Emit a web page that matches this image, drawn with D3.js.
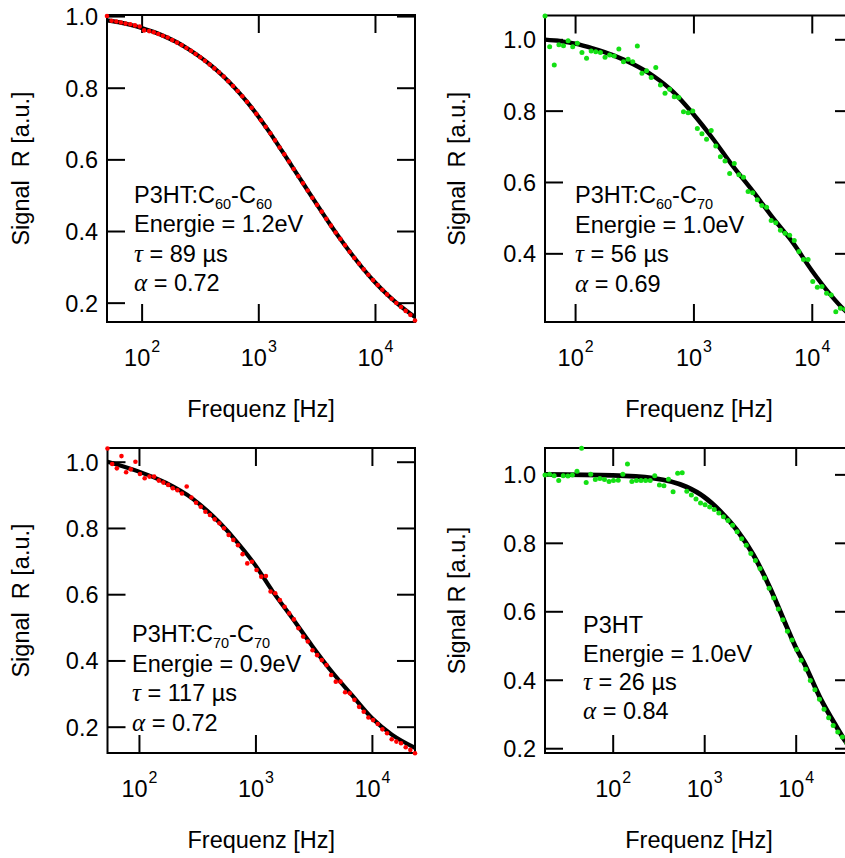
<!DOCTYPE html>
<html>
<head>
<meta charset="utf-8">
<script src="https://cdn.jsdelivr.net/npm/d3@7"></script>
<style>
  body { margin: 0; background: #fff; }
  svg { display: block; }
  text { font-family: "Liberation Sans", Arial, sans-serif; fill: #000; }
</style>
</head>
<body>
<script>
// ---------- measured spectra and fitted curves ----------

// P3HT:C60-C60
const freqA = [50.5,55.3,60.7,66.5,72.9,80.0,87.7,96.2,105,116,127,139,152,167,183,201,220,242,265,290,318,349,383,420,460,505,553,607,665,729,800,877,962,1054,1156,1268,1390,1524,1671,1832,2009,2203,2415,2649,2904,3184,3491,3828,4198,4603,5047,5533,6067,6653,7294,7998,8770,9616,10540,11560,12680,13900,15240,16710,18320,20090,22030];
const signalA = [1.000,0.987,0.985,0.982,0.979,0.977,0.974,0.971,0.960,0.958,
  0.955,0.950,0.945,0.940,0.933,0.926,0.919,0.911,0.903,0.894,
  0.885,0.875,0.865,0.854,0.843,0.831,0.818,0.805,0.791,0.776,
  0.761,0.744,0.727,0.709,0.691,0.673,0.653,0.633,0.614,0.594,
  0.573,0.553,0.533,0.513,0.493,0.473,0.454,0.434,0.415,0.396,
  0.378,0.360,0.342,0.325,0.309,0.293,0.278,0.263,0.249,0.236,
  0.223,0.211,0.199,0.188,0.177,0.166,0.150];
const fitFreqA = [50.5,63.1,79.4,100,126,158,200,251,316,398,501,631,794,1000,1259,1585,1995,2512,3162,3981,5012,6310,7943,10000,12590,15850,19950,22030];
const fitA = [0.988,0.983,0.976,0.967,0.956,0.943,0.927,0.908,0.886,0.861,0.832,0.799,0.762,0.720,0.674,0.625,0.575,0.525,0.475,0.426,0.379,0.335,0.294,0.257,0.224,0.195,0.170,0.160];

// P3HT:C60-C70
const freqB = [55.7,61.0,66.7,73.0,79.8,87.3,95.5,104.5,114.3,125.0,136.8,149.6,163.7,179.1,195.9,214.3,234.4,256.4,280.5,306.9,335.7,367.3,401.8,439.5,480.8,526.0,575.4,629.5,688.7,753.4,824.1,901.6,986.3,1079,1180,1291,1413,1545,1690,1849,2023,2213,2421,2649,2897,3170,3467,3793,4150,4539,4966,5433,5943,6501,7112,7780,8511,9311,10190,11140,12190,13340,14590,15960,17460,19100,20890];
const signalB = [1.065,0.979,0.928,0.985,0.982,0.996,0.979,0.989,0.963,0.947,
  0.967,0.965,0.963,0.950,0.956,0.953,0.973,0.937,0.944,0.937,
  0.981,0.905,0.912,0.893,0.921,0.872,0.849,0.860,0.839,0.837,
  0.797,0.794,0.799,0.750,0.735,0.720,0.744,0.701,0.671,0.659,
  0.624,0.652,0.620,0.613,0.573,0.570,0.550,0.534,0.529,0.492,
  0.486,0.465,0.456,0.451,0.436,0.405,0.383,0.383,0.321,0.305,
  0.307,0.288,0.283,0.236,0.246,0.243,0.225];
const fitFreqB = [55.7,74.6,100,143,211,311,459,678,1000,1456,2148,3162,4677,6918,10000,14290,19050,22300];
const fitB = [0.999,0.995,0.988,0.974,0.955,0.930,0.897,0.852,0.790,0.722,0.645,0.575,0.500,0.430,0.352,0.285,0.240,0.222];

// P3HT:C70-C70
const freqC = [53.7,58.9,64.6,70.8,77.6,85.1,93.3,102,112,123,135,148,162,178,195,214,234,257,282,309,339,372,407,447,490,537,589,646,708,776,851,933,1023,1122,1230,1349,1479,1622,1778,1950,2138,2344,2570,2818,3090,3388,3715,4074,4467,4898,5370,5888,6457,7079,7762,8511,9333,10230,11220,12300,13490,14790,16220,17780,19500,21380,23440];
const signalC = [1.040,0.993,0.980,1.017,0.968,0.977,1.000,0.963,0.950,0.955,
  0.955,0.943,0.937,0.930,0.920,0.914,0.904,0.925,0.892,0.876,
  0.864,0.849,0.839,0.826,0.814,0.799,0.779,0.764,0.748,0.721,
  0.693,0.698,0.673,0.653,0.655,0.608,0.603,0.582,0.562,0.542,
  0.524,0.497,0.472,0.457,0.431,0.416,0.401,0.386,0.356,0.336,
  0.336,0.304,0.301,0.281,0.260,0.245,0.228,0.220,0.208,0.192,
  0.180,0.162,0.155,0.150,0.138,0.130,0.120];
const fitFreqC = [53.7,100,171,290,489,724,1000,1396,2070,3069,4550,6745,10000,14830,23440];
const fitC = [1.000,0.970,0.936,0.888,0.817,0.750,0.687,0.610,0.528,0.444,0.365,0.295,0.226,0.176,0.136];

// P3HT
const freqD = [18.2,20.4,22.9,25.7,28.8,32.4,36.3,40.7,45.7,51.3,57.5,64.6,72.4,81.3,91.2,102,115,129,145,162,182,204,229,257,288,324,363,407,457,513,575,646,724,813,912,1023,1148,1288,1445,1622,1820,2042,2291,2570,2884,3236,3631,4074,4571,5129,5754,6457,7244,8128,9120,10230,11480,12880,14450,16220,18200,20420,22910,25700,28840,32360,36310,40740];
const signalD = [0.998,1.000,0.996,0.982,0.996,0.995,0.998,1.009,1.076,0.976,
  1.000,0.985,0.988,0.985,0.979,0.982,0.983,1.000,1.030,0.979,
  0.982,0.982,0.982,0.982,0.996,0.969,0.967,0.986,0.949,1.003,
  1.005,0.951,0.940,0.928,0.916,0.911,0.905,0.897,0.887,0.876,
  0.865,0.851,0.832,0.812,0.793,0.769,0.748,0.725,0.697,0.667,
  0.639,0.607,0.575,0.542,0.516,0.488,0.457,0.431,0.398,0.371,
  0.343,0.314,0.289,0.266,0.247,0.233,0.215,0.200];
const fitFreqD = [18.2,100,275,646,1000,1479,2265,3443,5248,7943,10000,12130,18450,28050,34590,42300];
const fitD = [1.000,0.997,0.989,0.963,0.934,0.894,0.838,0.765,0.668,0.556,0.495,0.453,0.348,0.262,0.222,0.190];

// axis ranges and ticks
const xDomains = [[50.5, 22030], [55.7, 22300], [53.7, 23440], [18.2, 42300]];
const yDomains = [[0.146, 1.003], [0.2075, 1.0667], [0.1206, 1.0414], [0.186, 1.077]];
const xTickValues = [100, 1000, 10000];
const yTickValues = [[0.2, 0.4, 0.6, 0.8, 1.0], [0.4, 0.6, 0.8, 1.0], [0.2, 0.4, 0.6, 0.8, 1.0], [0.2, 0.4, 0.6, 0.8, 1.0]];

// annotation texts
const sampleNames = [
  [["P3HT:C", false], ["60", true], ["-C", false], ["60", true]],
  [["P3HT:C", false], ["60", true], ["-C", false], ["70", true]],
  [["P3HT:C", false], ["70", true], ["-C", false], ["70", true]],
  [["P3HT", false]]
];
const energies = ["1.2", "1.0", "0.9", "1.0"];
const taus = ["89", "56", "117", "26"];
const alphas = ["0.72", "0.69", "0.72", "0.84"];
const yTitles = ["Signal  R [a.u.]", "Signal  R [a.u.]", "Signal  R [a.u.]", "Signal R [a.u.]"];
const xTitle = "Frequenz [Hz]";

// ---------- layout ----------
const RED = "#ff0000", GREEN = "#14e014";
const panels = [
  { freq: freqA, signal: signalA, fitFreq: fitFreqA, fit: fitA, color: RED, r: 2.3, lw: 4.2,
    box: { x: 107, y: 15, w: 308, h: 307 }, note: { x: 134, y: 203, step: 29.3 }, titleX: 29 },
  { freq: freqB, signal: signalB, fitFreq: fitFreqB, fit: fitB, color: GREEN, r: 2.5, lw: 4.4,
    box: { x: 545, y: 15.5, w: 308, h: 306.5 }, note: { x: 575, y: 203, step: 29.7 }, titleX: 465 },
  { freq: freqC, signal: signalC, fitFreq: fitFreqC, fit: fitC, color: RED, r: 2.3, lw: 4.2,
    box: { x: 107.5, y: 448, w: 307.5, h: 305 }, note: { x: 132, y: 642, step: 29.7 }, titleX: 29 },
  { freq: freqD, signal: signalD, fitFreq: fitFreqD, fit: fitD, color: GREEN, r: 2.5, lw: 4.8,
    box: { x: 545, y: 448, w: 308, h: 305 }, note: { x: 583, y: 633, step: 28.5 }, titleX: 465 }
];

const FONT = 23.5, TICK = 18;
const svg = d3.select("body").append("svg").attr("width", 845).attr("height", 858);

function styleAxis(sel) {
  sel.attr("font-size", FONT).attr("font-family", null);
  sel.select(".domain").remove();
  sel.selectAll(".tick line").attr("stroke", "#000").attr("stroke-width", 2);
}

panels.forEach((p, i) => {
  const { w, h } = p.box;
  const g = svg.append("g").attr("transform", `translate(${p.box.x},${p.box.y})`);
  const x = d3.scaleLog().domain(xDomains[i]).range([0, w]);
  const y = d3.scaleLinear().domain(yDomains[i]).range([h, 0]);

  // bottom axis with 10^n labels
  const gx = g.append("g").attr("transform", `translate(0,${h})`)
    .call(d3.axisBottom(x).tickValues(xTickValues).tickSize(-TICK).tickSizeOuter(0))
    .call(styleAxis);
  gx.selectAll(".tick text").each(function (d) {
    const t = d3.select(this).text(null).attr("y", 43.5).attr("dy", null).attr("text-anchor", "middle");
    t.append("tspan").text("10");
    t.append("tspan").attr("dx", 1).attr("dy", -14).attr("font-size", 16).text(Math.round(Math.log10(d)));
  });
  // top axis, ticks only
  g.append("g")
    .call(d3.axisTop(x).tickValues(xTickValues).tickSize(-TICK).tickSizeOuter(0).tickFormat(""))
    .call(styleAxis);
  // left axis with labels
  g.append("g")
    .call(d3.axisLeft(y).tickValues(yTickValues[i]).tickSize(-TICK).tickSizeOuter(0).tickPadding(9).tickFormat(d3.format(".1f")))
    .call(styleAxis)
    .selectAll(".tick text").attr("dy", "0.36em");
  // right axis, ticks only
  g.append("g").attr("transform", `translate(${w},0)`)
    .call(d3.axisRight(y).tickValues(yTickValues[i]).tickSize(-TICK).tickSizeOuter(0).tickFormat(""))
    .call(styleAxis);

  // frame
  g.append("rect").attr("width", w).attr("height", h)
    .attr("fill", "none").attr("stroke", "#000").attr("stroke-width", 2);

  // fitted curve
  const line = d3.line().x(d => x(d[0])).y(d => y(d[1])).curve(d3.curveMonotoneX);
  g.append("path").datum(d3.zip(p.fitFreq, p.fit))
    .attr("d", line).attr("fill", "none").attr("stroke", "#000")
    .attr("stroke-width", p.lw).attr("stroke-linejoin", "round");

  // measured points
  g.append("g").selectAll("circle").data(d3.zip(p.freq, p.signal)).join("circle")
    .attr("cx", d => x(d[0])).attr("cy", d => y(d[1])).attr("r", p.r).attr("fill", p.color);

  // axis titles
  svg.append("text").attr("x", p.box.x + w / 2).attr("y", p.box.y + h + 95)
    .attr("text-anchor", "middle").attr("font-size", FONT).text(xTitle);
  svg.append("text")
    .attr("transform", `translate(${p.titleX},${p.box.y + h / 2}) rotate(-90)`)
    .attr("text-anchor", "middle").attr("font-size", FONT)
    .style("white-space", "pre").text(yTitles[i]);

  // annotation block
  const n = p.note;
  const t1 = svg.append("text").attr("x", n.x).attr("y", n.y).attr("font-size", FONT);
  sampleNames[i].forEach(([s, sub], j) => {
    const prevSub = j > 0 && sampleNames[i][j - 1][1];
    const ts = t1.append("tspan").text(s);
    if (sub) ts.attr("font-size", 14.5).attr("dy", prevSub ? 0 : 6);
    else if (prevSub) ts.attr("dy", -6);
  });
  svg.append("text").attr("x", n.x).attr("y", n.y + n.step).attr("font-size", FONT)
    .text(`Energie = ${energies[i]}eV`);
  const t3 = svg.append("text").attr("x", n.x).attr("y", n.y + 2 * n.step).attr("font-size", FONT);
  t3.append("tspan").attr("font-family", "'Liberation Serif', 'Times New Roman', serif")
    .attr("font-style", "italic").attr("font-size", 25).text("\u03c4");
  t3.append("tspan").text(` = ${taus[i]} \u00b5s`);
  const t4 = svg.append("text").attr("x", n.x).attr("y", n.y + 3 * n.step).attr("font-size", FONT);
  t4.append("tspan").attr("font-family", "'Liberation Serif', 'Times New Roman', serif")
    .attr("font-style", "italic").attr("font-size", 25).text("\u03b1");
  t4.append("tspan").text(` = ${alphas[i]}`);
});
</script>
</body>
</html>
